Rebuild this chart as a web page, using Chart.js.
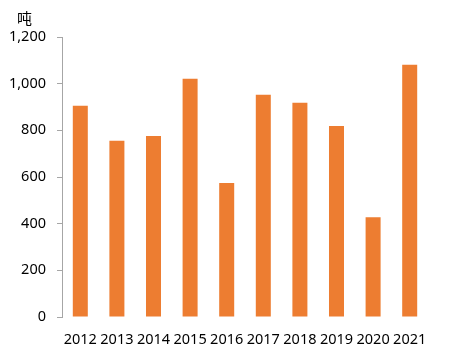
<!DOCTYPE html>
<html>
<head>
<meta charset="utf-8">
<script src="https://cdn.jsdelivr.net/npm/chart.js@4"></script>
<style>
  html, body { margin: 0; padding: 0; background: #fff; }
  #wrap { width: 452px; height: 364px; position: relative; }
</style>
</head>
<body>
<div id="wrap"><canvas id="chart"></canvas></div>
<script>
// 年份与数值（吨）
const years = ["2012", "2013", "2014", "2015", "2016", "2017", "2018", "2019", "2020", "2021"];
const tons = [905, 755, 776, 1021, 574, 952, 918, 819, 428, 1081];
const yTicks = [0, 200, 400, 600, 800, 1000, 1200];
const unitLabel = "吨";

const fontFamily = "'Noto Sans', 'Noto Sans CJK SC', sans-serif";

// 单位文字画在左上角
const unitPlugin = {
    id: "unitLabel",
    afterDraw(chart) {
        const ctx = chart.ctx;
        ctx.save();
        ctx.font = "15px 'Noto Sans CJK SC', sans-serif";
        ctx.fillStyle = "#000";
        ctx.textBaseline = "middle";
        ctx.textAlign = "left";
        ctx.fillText(unitLabel, 17, 18);
        ctx.restore();
    }
};

new Chart(document.getElementById("chart"), {
    type: "bar",
    data: {
        labels: years,
        datasets: [{
            data: tons,
            backgroundColor: "#ED7D31",
            barPercentage: 0.41,
            categoryPercentage: 1
        }]
    },
    options: {
        responsive: true,
        maintainAspectRatio: false,
        animation: false,
        layout: { padding: { top: 37, right: 24, left: 0, bottom: 0 } },
        plugins: {
            legend: { display: false },
            tooltip: { enabled: false }
        },
        scales: {
            x: {
                grid: { display: false },
                border: { display: false },
                ticks: {
                    color: "#000",
                    font: { family: fontFamily, size: 14.5 },
                    padding: 6,
                    maxRotation: 0
                },
                afterFit(scale) { scale.height = 47; }
            },
            y: {
                min: 0,
                max: 1200,
                afterBuildTicks(scale) {
                    scale.ticks = yTicks.map(v => ({ value: v }));
                },
                grid: {
                    drawOnChartArea: false,
                    drawTicks: true,
                    tickLength: 5,
                    color: "#A6A6A6"
                },
                border: { display: true, color: "#A6A6A6", width: 1 },
                ticks: {
                    color: "#000",
                    font: { family: fontFamily, size: 14.5 },
                    padding: 11,
                    callback: v => v.toLocaleString("en-US")
                },
                afterFit(scale) { scale.width = 62; }
            }
        }
    },
    plugins: [unitPlugin]
});
</script>
</body>
</html>
